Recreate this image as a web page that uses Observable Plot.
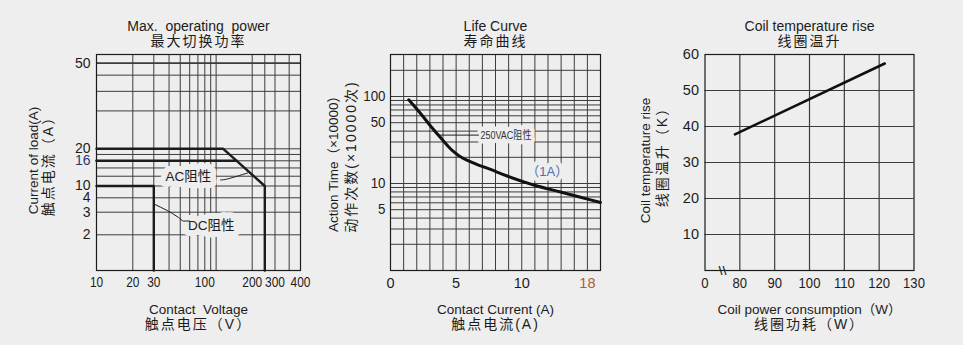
<!DOCTYPE html>
<html><head><meta charset="utf-8">
<script src="https://cdn.jsdelivr.net/npm/d3@7"></script>
<script src="https://cdn.jsdelivr.net/npm/@observablehq/plot@0.6"></script>
<style>
body{margin:0;background:#eeeeee;}
#wrap{position:relative;width:963px;height:345px;background:#eeeeee;overflow:hidden;}
#wrap svg{position:absolute;left:0;top:0;}
</style></head><body><div id="wrap"></div>
<script>
const FONT = '"Liberation Sans",Arial,"Noto Sans CJK SC",sans-serif';
const INK = "#1c1c1c", GRID = "#3c3c3c", BG = "#eeeeee";

// ---------- Chart 1: Max. operating power ----------
const powerXTicks = [10, 20, 30, 100, 200, 300, 400];
const powerYTicks = [2, 3, 4, 10, 16, 20, 50];
const powerXGrid = [20, 30, 43, 56, 70, 85, 100, 109, 118, 200, 250, 300, 352];
const powerYGrid = [2, 3, 4, 10, 12, 14, 16, 18, 20, 30, 37, 44, 50];
const dcVolt = [10, 30, 30];
const dcAmp = [10, 10, 1];
const acVolt = [10, 131, 250, 250];
const acAmp = [20, 20, 10, 1];
const ac16Volt = [10, 159];
const ac16Amp = [16, 16];
const acLeaderVolt = [126, 141, 187];
const acLeaderAmp = [11.2, 11.45, 12.75];
const dcLeaderVolt = [30.9, 53.8, 60.5, 69.7];
const dcLeaderAmp = [3.5, 2.73, 2.56, 2.56];
const powerNoteVolt = [68, 110];
const powerNoteAmp = [11.8, 2.36];
const powerNoteText = ["AC阻性", "DC阻性"];

// ---------- Chart 2: Life curve ----------
const lifeXTicks = [0, 5, 10, 18];
const lifeYTicks = [5, 10, 50, 100];
const lifeXGrid = [1, 2, 3, 4, 5, 6, 7, 8, 9, 10, 11.6, 13.2, 14.8, 16.4, 18];
const lifeYGrid = [2, 3, 4, 5, 6, 7, 8, 9, 10, 20, 30, 40, 50, 60, 70, 80, 90, 100, 200];
const lifeCurrent = [1.39, 2.29, 3.05, 3.94, 4.72, 5.49, 6.48, 7.62, 8.89, 11.47, 14.72, 17.16, 19.6];
const lifeCycles = [91.6, 63.8, 45.8, 32.0, 23.9, 19.6, 16.8, 14.5, 12.2, 9.61, 7.99, 6.96, 6.05];
const lifeLeaderCurrent = [3.7, 6.7];
const lifeLeaderCycles = [36, 36];

// ---------- Chart 3: Coil temperature rise ----------
const coilXTicks = [70, 80, 90, 100, 110, 120, 130];
const coilXLabels = ["0", "80", "90", "100", "110", "120", "130"];
const coilYTicks = [10, 20, 30, 40, 50, 60];
const coilXGrid = [80, 90, 100, 110, 120];
const coilYGrid = [10, 20, 30, 40, 50];
const coilPower = [78.6, 121.6];
const coilRise = [37.8, 57.5];

const zip = (xs, ys) => xs.map((x, i) => ({x, y: ys[i]}));
const spaced = new Set();

function frameTexts(title1, title2, xl1, xl2, yl1, yl2, ydx1, ydx2, ydy1, ydy2) {
  [title2, xl2, yl2].forEach(s => spaced.add(s));
  const t = (s, opts) => Plot.text([s], {text: d => d, fill: INK, fontFamily: FONT, ...opts});
  return [
    t(title1, {frameAnchor: "top", dy: -33, fontSize: 14}),
    t(title2, {frameAnchor: "top", dy: -18, fontSize: 14}),
    t(xl1, {frameAnchor: "bottom", dy: 43, fontSize: 13.5}),
    t(xl2, {frameAnchor: "bottom", dy: 58, fontSize: 14}),
    t(yl1, {frameAnchor: "middle", dx: ydx1, dy: ydy1, rotate: -90, fontSize: 13.5}),
    t(yl2, {frameAnchor: "middle", dx: ydx2, dy: ydy2, rotate: -90, fontSize: 14})
  ];
}
// squeeze: horizontal compression factor applied to the tick texts after rendering
function tickTexts(xTicks, yTicks, xLabel, yLabel, xFill, yFill, ydx, xSize, ySize, xSqueeze, ySqueeze) {
  return [
    Plot.text(xTicks, {x: d => d, text: xLabel, frameAnchor: "bottom", lineAnchor: "top", dy: 7,
      fontSize: xSize, fill: xFill, fontFamily: FONT, ariaDescription: `squeeze:${xSqueeze}`}),
    Plot.text(yTicks, {y: d => d, text: yLabel, frameAnchor: "left", textAnchor: "end", dx: ydx,
      fontSize: ySize, fill: yFill, fontFamily: FONT, ariaDescription: `squeeze:${ySqueeze}`})
  ];
}

const baseStyle = {fontFamily: FONT, fontSize: "14px", background: "transparent", color: INK, overflow: "visible"};

const chart1 = Plot.plot({
  width: 963, height: 345,
  marginLeft: 96, marginRight: 663, marginTop: 54, marginBottom: 75,
  style: baseStyle,
  x: {type: "log", domain: [10, 20, 30, 100, 200, 250, 300, 400],
      range: [96, 132.3, 153.3, 204.3, 251.7, 264.3, 274.5, 300], axis: null},
  y: {type: "log", domain: [1, 2, 3, 4, 10, 16, 20, 50, 60],
      range: [270, 234.3, 211.7, 197.3, 185.5, 160.3, 148.3, 62.7, 54], axis: null},
  marks: [
    Plot.ruleX(powerXGrid, {stroke: GRID, strokeWidth: 1}),
    Plot.ruleY(powerYGrid, {stroke: GRID, strokeWidth: d => d === 50 ? 1.7 : 1}),
    Plot.frame({stroke: INK, strokeWidth: 1.2}),
    ...tickTexts(powerXTicks, powerYTicks, d => `${d}`, d => `${d}`, INK,
      d => d === 16 ? "#1f3a78" : INK, -6, 14, 14, 0.85, 1),
    Plot.text(zip(powerNoteVolt, powerNoteAmp), {x: "x", y: "y", text: (d, i) => powerNoteText[i],
      fontSize: 13.5, fill: INK, stroke: BG, strokeWidth: 12, fontFamily: FONT}),
    Plot.line(zip(acLeaderVolt, acLeaderAmp), {x: "x", y: "y", stroke: INK, strokeWidth: 1, curve: "natural"}),
    Plot.line(zip(dcLeaderVolt, dcLeaderAmp), {x: "x", y: "y", stroke: INK, strokeWidth: 1, curve: "monotone-x"}),
    Plot.line(zip(dcVolt, dcAmp), {x: "x", y: "y", stroke: INK, strokeWidth: 2.4}),
    Plot.line(zip(ac16Volt, ac16Amp), {x: "x", y: "y", stroke: INK, strokeWidth: 2.6}),
    Plot.line(zip(acVolt, acAmp), {x: "x", y: "y", stroke: INK, strokeWidth: 2.4}),
    ...frameTexts("Max.  operating  power", "最大切换功率", "Contact  Voltage", "触点电压（V）",
      "Current of load(A)", "触点电流（A）", -165, -150, -2, 0)
  ]
});

const chart2 = Plot.plot({
  width: 963, height: 345,
  marginLeft: 390, marginRight: 363, marginTop: 54, marginBottom: 75,
  style: baseStyle,
  x: {type: "linear", domain: [0, 10, 18, 19.6], range: [390, 521.25, 586.9, 600], axis: null},
  y: {type: "log", domain: [1, 304], axis: null},
  marks: [
    Plot.ruleX(lifeXGrid, {stroke: GRID, strokeWidth: 1}),
    Plot.ruleY(lifeYGrid, {stroke: GRID, strokeWidth: 1}),
    Plot.frame({stroke: INK, strokeWidth: 1.2}),
    ...tickTexts(lifeXTicks, lifeYTicks, d => `${d}`, d => `${d}`,
      d => d === 18 ? "#b0602a" : INK, INK, -5, 14.5, 14, 1, 0.95),
    Plot.text(zip([6.85], [36]), {x: "x", y: "y", text: () => "250VAC阻性", textAnchor: "start",
      fontSize: 11, fill: "#333", stroke: BG, strokeWidth: 9, fontFamily: FONT, ariaDescription: "squeeze:0.82"}),
    Plot.text(zip([13.1], [13.5]), {x: "x", y: "y", text: () => "（1A）",
      fontSize: 13, fill: "#4f6fa8", stroke: BG, strokeWidth: 9, fontFamily: FONT}),
    Plot.line(zip(lifeLeaderCurrent, lifeLeaderCycles), {x: "x", y: "y", stroke: INK, strokeWidth: 1}),
    Plot.line(zip(lifeCurrent, lifeCycles), {x: "x", y: "y", stroke: "#111", strokeWidth: 3, curve: "catmull-rom"}),
    ...frameTexts("Life Curve", "寿命曲线", "Contact Current (A)", "触点电流(A)",
      "Action Time（×10000）", "动作次数(×10000次)", -161.7, -144.3, -2, -6)
  ]
});

const chart3 = Plot.plot({
  width: 963, height: 345,
  marginLeft: 704.5, marginRight: 49.5, marginTop: 54, marginBottom: 75,
  style: baseStyle,
  x: {type: "linear", domain: [70, 130], axis: null},
  y: {type: "linear", domain: [0, 60], axis: null},
  marks: [
    Plot.ruleX(coilXGrid, {stroke: GRID, strokeWidth: 1.2}),
    Plot.ruleY(coilYGrid, {stroke: GRID, strokeWidth: 1.2}),
    Plot.frame({stroke: INK, strokeWidth: 1.2}),
    ...tickTexts(coilXTicks, coilYTicks, d => coilXLabels[coilXTicks.indexOf(d)], d => `${d}`, INK, INK, -6, 14.5, 14.5, 0.9, 1),
    Plot.text(zip([75], [0]), {x: "x", y: "y", text: () => "\\\\", fontSize: 11, fontWeight: "bold", fill: INK, fontFamily: "DejaVu Sans"}),
    Plot.line(zip(coilPower, coilRise), {x: "x", y: "y", stroke: "#111", strokeWidth: 2.6}),
    ...frameTexts("Coil temperature rise", "线圈温升", "Coil power consumption（W）", "线圈功耗（W）",
      "Coil temperature rise", "线圈温升（K）", -164, -147.3, -2, -9)
  ]
});

const wrap = document.getElementById("wrap");
[chart1, chart2, chart3].forEach(svg => {
  wrap.appendChild(svg);
  d3.select(svg).selectAll("text").each(function () {
    if (spaced.has(this.textContent)) this.setAttribute("letter-spacing", "2px");
  });
  d3.select(svg).selectAll("g[aria-description^='squeeze:']").each(function () {
    const k = +this.getAttribute("aria-description").slice(8);
    if (k === 1) return;
    d3.select(this).selectAll("text").each(function () {
      const w = this.getComputedTextLength();
      this.setAttribute("textLength", (w * k).toFixed(1));
      this.setAttribute("lengthAdjust", "spacingAndGlyphs");
    });
  });
});
</script></body></html>
